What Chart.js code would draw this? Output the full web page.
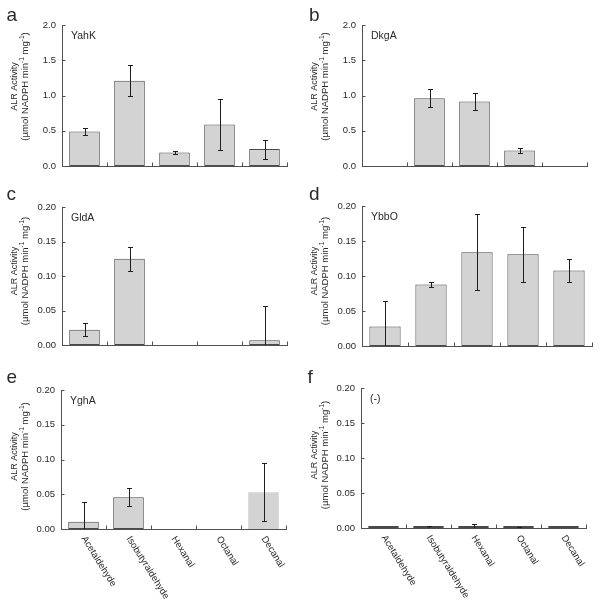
<!DOCTYPE html>
<html>
<head>
<meta charset="utf-8">
<script src="https://cdn.jsdelivr.net/npm/chart.js@4.4.1/dist/chart.umd.min.js"></script>
<style>
    html, body { margin: 0; padding: 0; background: #fff; }
    #figure { position: relative; width: 601px; height: 607px; overflow: hidden; }
    #figure canvas { position: absolute; }
</style>
</head>
<body>
<div id="figure">
    <canvas id="panelA" width="300" height="185" style="left:0px;top:0px"></canvas>
    <canvas id="panelB" width="301" height="185" style="left:300px;top:0px"></canvas>
    <canvas id="panelC" width="300" height="180" style="left:0px;top:185px"></canvas>
    <canvas id="panelD" width="301" height="180" style="left:300px;top:185px"></canvas>
    <canvas id="panelE" width="300" height="242" style="left:0px;top:365px"></canvas>
    <canvas id="panelF" width="301" height="242" style="left:300px;top:365px"></canvas>
</div>
<script>
// Substrates (x categories)
var substrates = ["Acetaldehyde", "Isobutyraldehyde", "Hexanal", "Octanal", "Decanal"];

// Y tick labels
var ticksLarge = [0, 0.5, 1.0, 1.5, 2.0];
var ticksSmall = [0, 0.05, 0.10, 0.15, 0.20];

// ALR activity (mean) and error bar half-width per substrate
var yahkActivity = [0.49, 1.21, 0.19, 0.59, 0.24];
var yahkError = [0.05, 0.22, 0.025, 0.36, 0.135];
var dkgaActivity = [0, 0.96, 0.915, 0.22, 0];
var dkgaError = [0, 0.13, 0.125, 0.04, 0];
var gldaActivity = [0.022, 0.125, 0, 0, 0.007];
var gldaError = [0.0095, 0.0175, 0, 0, 0.049];
var ybboActivity = [0.028, 0.088, 0.134, 0.131, 0.108];
var ybboError = [0.036, 0.003, 0.054, 0.039, 0.017];
var yghaActivity = [0.0105, 0.0457, 0, 0, 0.053];
var yghaError = [0.028, 0.013, 0, 0, 0.0415];
var blankActivity = [0.0005, 0.0005, 0.0008, 0.0004, 0.0003];
var blankError = [0, 0.003, 0.005, 0.001, 0];

var FONT = '"Liberation Sans", Arial, Helvetica, sans-serif';
var TEXT_COLOR = "#2a2a2a";
var AXIS_COLOR = "#505050";

// Layout of each panel (page is 601x607)
var panels = [
    { canvas: "panelA", letter: "a", letterX: 6.5, letterY: 20.5, name: "YahK", values: yahkActivity, errors: yahkError,
      ticks: ticksLarge, decimals: 1, yWidth: 62, padTop: 25, padRight: 13, xHeight: 19, titleShift: -9 },
    { canvas: "panelB", letter: "b", letterX: 9, letterY: 21, name: "DkgA", values: dkgaActivity, errors: dkgaError,
      ticks: ticksLarge, decimals: 1, yWidth: 62, padTop: 25, padRight: 14, xHeight: 19, titleShift: -9 },
    { canvas: "panelC", letter: "c", letterX: 6.5, letterY: 15, name: "GldA", values: gldaActivity, errors: gldaError,
      ticks: ticksSmall, decimals: 2, yWidth: 62, padTop: 22, padRight: 13, xHeight: 20, titleShift: -5 },
    { canvas: "panelD", letter: "d", letterX: 9, letterY: 15, name: "YbbO", values: ybboActivity, errors: ybboError,
      ticks: ticksSmall, decimals: 2, yWidth: 62, padTop: 21, padRight: 9, xHeight: 19, titleShift: -5 },
    { canvas: "panelE", letter: "e", letterX: 6.5, letterY: 18, name: "YghA", values: yghaActivity, errors: yghaError,
      ticks: ticksSmall, decimals: 2, yWidth: 61, padTop: 25, padRight: 14, xHeight: 78, titleShift: -3,
      showLabels: true, borderWidths: [1, 1, 1, 1, 0] },
    { canvas: "panelF", letter: "f", letterX: 7.5, letterY: 18, name: "(-)", values: blankActivity, errors: blankError,
      ticks: ticksSmall, decimals: 2, yWidth: 61, padTop: 23, padRight: 15, xHeight: 79, titleShift: -3,
      showLabels: true, minBar: 2 }
];

// Draw the y title with real superscripts, rotated
function drawYTitle(ctx, cy) {
    ctx.save();
    ctx.fillStyle = TEXT_COLOR;
    ctx.textBaseline = "middle";
    ctx.textAlign = "center";
    ctx.font = "9px " + FONT;
    ctx.translate(15, cy);
    ctx.rotate(-Math.PI / 2);
    ctx.fillText("ALR Activity", 0, 0);
    ctx.restore();

    var parts = [["(\u00b5mol NADPH min", false], ["-1", true], [" mg", false], ["-1", true], [")", false]];
    ctx.save();
    ctx.fillStyle = TEXT_COLOR;
    ctx.textBaseline = "middle";
    ctx.textAlign = "left";
    ctx.translate(25.5, cy);
    ctx.rotate(-Math.PI / 2);
    var total = 0;
    parts.forEach(function (p) {
        ctx.font = (p[1] ? "6.5px " : "9.5px ") + FONT;
        total += ctx.measureText(p[0]).width;
    });
    var x = -total / 2;
    parts.forEach(function (p) {
        ctx.font = (p[1] ? "6.5px " : "9.5px ") + FONT;
        ctx.fillText(p[0], x, p[1] ? -3.5 : 0);
        x += ctx.measureText(p[0]).width;
    });
    ctx.restore();
}

// Plugin: error bars, inward ticks, labels and panel letters
function makeExtras(p) {
    return {
        id: "panelExtras",
        afterDraw: function (chart) {
            var ctx = chart.ctx;
            var area = chart.chartArea;
            var xs = chart.scales.x;
            var ys = chart.scales.y;
            var n = substrates.length;

            ctx.save();
            // error bars
            ctx.strokeStyle = "#1e1e1e";
            ctx.lineWidth = 1;
            ctx.beginPath();
            p.values.forEach(function (v, i) {
                var err = p.errors[i];
                if (!err) return;
                var x0 = Math.round(xs.getPixelForValue(i));
                var x = x0 + 0.5;
                var top = Math.round(ys.getPixelForValue(v + err)) + 0.5;
                var low = ys.getPixelForValue(v - err);
                var clipped = low > area.bottom;
                low = clipped ? area.bottom : Math.round(low) + 0.5;
                ctx.moveTo(x, top);
                ctx.lineTo(x, low);
                ctx.moveTo(x0 - 2, top);
                ctx.lineTo(x0 + 3, top);
                if (!clipped) {
                    ctx.moveTo(x0 - 2, low);
                    ctx.lineTo(x0 + 3, low);
                }
            });
            ctx.stroke();

            // inward tick marks
            ctx.strokeStyle = AXIS_COLOR;
            ctx.beginPath();
            ys.ticks.forEach(function (t) {
                var y = Math.round(ys.getPixelForValue(t.value)) + 0.5;
                ctx.moveTo(area.left, y);
                ctx.lineTo(area.left + 3.5, y);
            });
            for (var i = 1; i <= n; i++) {
                var x = Math.round(xs.getPixelForValue(i - 0.5)) + 0.5;
                ctx.moveTo(x, Math.round(area.bottom));
                ctx.lineTo(x, Math.round(area.bottom) - 3.5);
            }
            ctx.stroke();

            // enzyme name inside the plot
            ctx.fillStyle = TEXT_COLOR;
            ctx.textAlign = "left";
            ctx.textBaseline = "alphabetic";
            ctx.font = "10.5px " + FONT;
            ctx.fillText(p.name, area.left + 9, area.top + 14);

            // panel letter
            ctx.font = "19px " + FONT;
            ctx.fillText(p.letter, p.letterX, p.letterY);

            // rotated substrate labels
            if (p.showLabels) {
                ctx.font = "9.5px " + FONT;
                ctx.textBaseline = "middle";
                substrates.forEach(function (s, i) {
                    ctx.save();
                    ctx.translate(xs.getPixelForValue(i), area.bottom + 8);
                    ctx.rotate(58 * Math.PI / 180);
                    ctx.fillText(s, 0, 0);
                    ctx.restore();
                });
            }
            ctx.restore();

            drawYTitle(ctx, (area.top + area.bottom) / 2 + p.titleShift);
        }
    };
}

function buildPanel(p) {
    var canvas = document.getElementById(p.canvas);
    var ctx = canvas.getContext("2d");
    return new Chart(ctx, {
        type: "bar",
        data: {
            labels: substrates,
            datasets: [{
                data: p.values,
                backgroundColor: "#d3d3d3",
                borderColor: "#4a4a4a",
                borderWidth: p.borderWidths || 1,
                borderSkipped: false,
                barPercentage: 0.68,
                categoryPercentage: 1,
                minBarLength: p.minBar || 0
            }]
        },
        options: {
            responsive: false,
            animation: false,
            events: [],
            layout: { padding: { left: 0, top: p.padTop, right: p.padRight, bottom: 0 } },
            plugins: {
                legend: { display: false },
                tooltip: { enabled: false }
            },
            scales: {
                x: {
                    grid: { display: false, drawTicks: false },
                    ticks: { display: false },
                    border: { display: true, color: AXIS_COLOR, width: 1 },
                    afterFit: function (scale) { scale.height = p.xHeight; }
                },
                y: {
                    min: p.ticks[0],
                    max: p.ticks[p.ticks.length - 1],
                    grid: { display: false, drawTicks: false },
                    border: { display: true, color: AXIS_COLOR, width: 1 },
                    ticks: {
                        padding: 6,
                        color: TEXT_COLOR,
                        font: { family: FONT, size: 9.5 },
                        callback: function (v) { return Number(v).toFixed(p.decimals); }
                    },
                    afterBuildTicks: function (scale) {
                        scale.ticks = p.ticks.map(function (v) { return { value: v }; });
                    },
                    afterFit: function (scale) { scale.width = p.yWidth; }
                }
            }
        },
        plugins: [makeExtras(p)]
    });
}

document.addEventListener("DOMContentLoaded", function () {
    panels.forEach(buildPanel);
});
</script>
</body>
</html>
